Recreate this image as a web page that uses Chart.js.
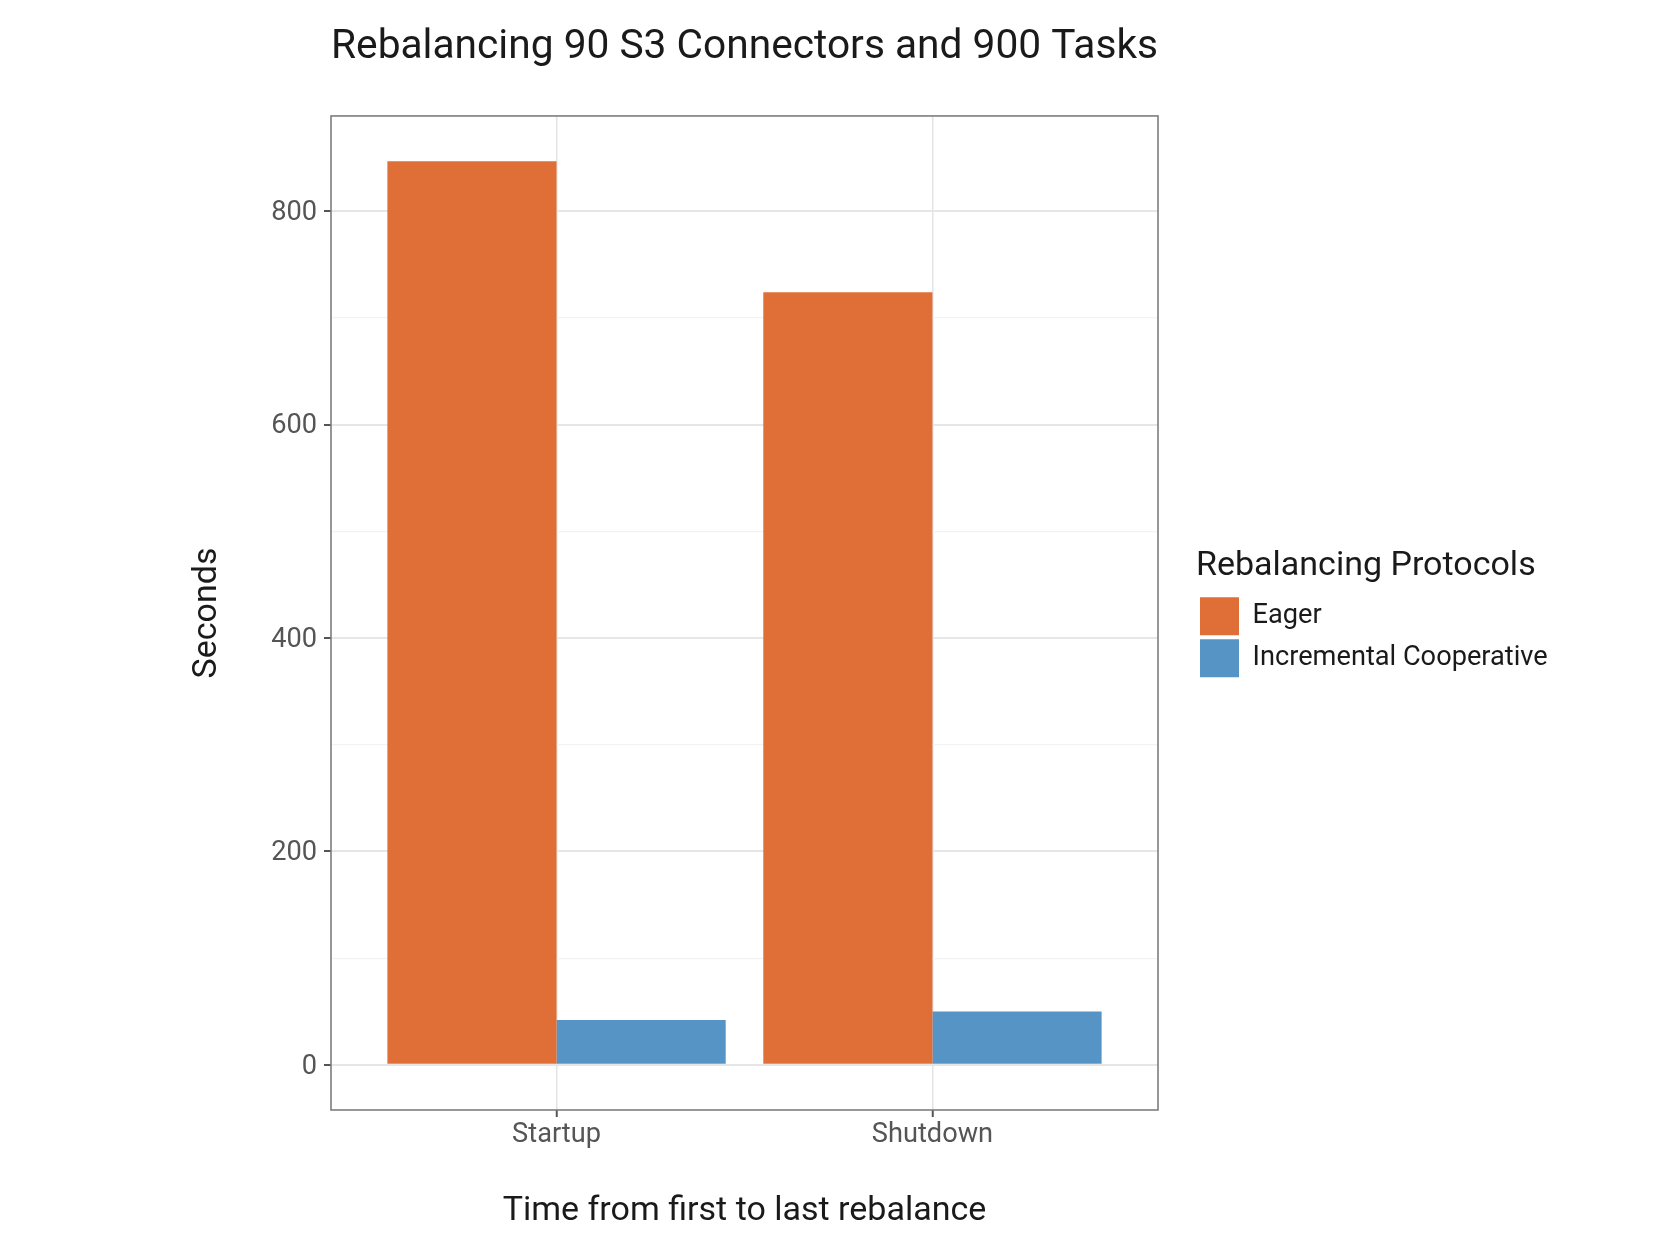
<!DOCTYPE html>
<html>
<head>
<meta charset="utf-8">
<script src="https://cdn.jsdelivr.net/npm/chart.js@4/dist/chart.umd.min.js"></script>
<style>html,body{margin:0;padding:0;background:#ffffff;}canvas{display:block;}</style>
</head>
<body>
<canvas id="chart" width="1664" height="1260"></canvas>
<script>
// ---- data ----
const categories = ['Startup', 'Shutdown'];
const seriesNames = ['Eager', 'Incremental Cooperative'];
const eagerSeconds = [847, 724];
const incrementalSeconds = [42, 50];
const yMajorTicks = [0, 200, 400, 600, 800];
const yMinorTicks = [100, 300, 500, 700];
const chartTitle = 'Rebalancing 90 S3 Connectors and 900 Tasks';
const xAxisTitle = 'Time from first to last rebalance';
const yAxisTitle = 'Seconds';
const legendTitle = 'Rebalancing Protocols';

// ---- style ----
const FONT = 'Roboto, "Noto Sans", "DejaVu Sans", sans-serif';
const ORANGE = '#E06F37';
const BLUE = '#5794C6';
const TEXT_DARK = '#1a1a1a';
const TEXT_TICK = '#555555';

Chart.defaults.font.family = FONT;

const maxVal = Math.max(0, ...eagerSeconds, ...incrementalSeconds);
const yPad = 0.05 * maxVal;
const xPositions = categories.map((_, i) => i + 1);
const toPoints = vals => vals.map((v, i) => ({ x: xPositions[i], y: v }));
const isMajor = v => yMajorTicks.includes(v);

const panelBorder = {
  id: 'panelBorder',
  afterDatasetsDraw(chart) {
    const { ctx, chartArea: a } = chart;
    ctx.save();
    ctx.strokeStyle = '#7d7d7d';
    ctx.lineWidth = 1.6;
    ctx.strokeRect(a.left, a.top, a.right - a.left, a.bottom - a.top);
    ctx.restore();
  }
};

const legendPlacement = {
  id: 'legendPlacement',
  beforeLayout(chart) {
    const lg = chart.legend;
    if (lg && !lg.__fixedWidth) {
      const fit = lg.fit;
      lg.fit = function () { fit.call(this); this.width = 506; };
      lg.__fixedWidth = true;
    }
  },
  afterLayout(chart) {
    const lg = chart.legend;
    if (lg) { lg.left += 38; lg.right += 38; }
  }
};

new Chart(document.getElementById('chart'), {
  type: 'bar',
  data: {
    datasets: [
      { label: seriesNames[0], data: toPoints(eagerSeconds), backgroundColor: ORANGE, borderWidth: 0,
        categoryPercentage: 0.9, barPercentage: 1.0 },
      { label: seriesNames[1], data: toPoints(incrementalSeconds), backgroundColor: BLUE, borderWidth: 0,
        categoryPercentage: 0.9, barPercentage: 1.0 }
    ]
  },
  options: {
    responsive: false,
    maintainAspectRatio: false,
    devicePixelRatio: 1,
    animation: false,
    events: [],
    layout: { padding: 0 },
    scales: {
      x: {
        type: 'linear',
        offset: false,
        min: 0.4,
        max: categories.length + 0.6,
        afterBuildTicks(s) { s.ticks = xPositions.map(v => ({ value: v })); },
        afterFit(s) { s.height = 150; },
        ticks: {
          autoSkip: false, maxRotation: 0, minRotation: 0,
          callback: v => categories[Math.round(v) - 1] ?? '',
          font: { size: 27.2 }, color: TEXT_TICK, padding: 2
        },
        grid: { offset: false, color: '#e4e4e4', lineWidth: 1.5, tickColor: '#555555', tickLength: 7, tickWidth: 2 },
        border: { display: false },
        title: { display: true, text: xAxisTitle, font: { size: 34 }, color: TEXT_DARK, padding: { top: 0, bottom: 28.5 } }
      },
      y: {
        type: 'linear',
        min: -yPad,
        max: maxVal + yPad,
        afterBuildTicks(s) {
          s.ticks = [...yMajorTicks, ...yMinorTicks].sort((a, b) => a - b).map(v => ({ value: v }));
        },
        afterFit(s) { s.width = 331; },
        ticks: {
          autoSkip: false,
          callback: v => isMajor(v) ? String(v) : '',
          font: { size: 27.2 }, color: TEXT_TICK, padding: 7, labelOffset: 2
        },
        grid: {
          color: c => isMajor(c.tick.value) ? '#e6e6e6' : '#f3f3f3',
          lineWidth: c => isMajor(c.tick.value) ? 2 : 1.2,
          tickColor: c => isMajor(c.tick.value) ? '#555555' : 'rgba(0,0,0,0)',
          tickLength: 7, tickWidth: 2
        },
        border: { display: false },
        title: { display: true, text: yAxisTitle, font: { size: 34 }, color: TEXT_DARK, padding: { top: 187, bottom: 0 } }
      }
    },
    plugins: {
      tooltip: { enabled: false },
      title: {
        display: true, text: chartTitle, align: 'start', fullSize: false,
        font: { size: 40.8, weight: 'normal' }, color: TEXT_DARK,
        padding: { top: 23.5, bottom: 43.5 }
      },
      legend: {
        display: true, position: 'right', align: 'start',
        title: { display: true, text: legendTitle, position: 'start', color: TEXT_DARK,
                 font: { size: 34 }, padding: { top: 549.5, bottom: 3 } },
        labels: { boxWidth: 39, boxHeight: 38, padding: 4, color: TEXT_DARK, font: { size: 27.2 } }
      }
    }
  },
  plugins: [panelBorder, legendPlacement]
});
</script>
</body>
</html>
